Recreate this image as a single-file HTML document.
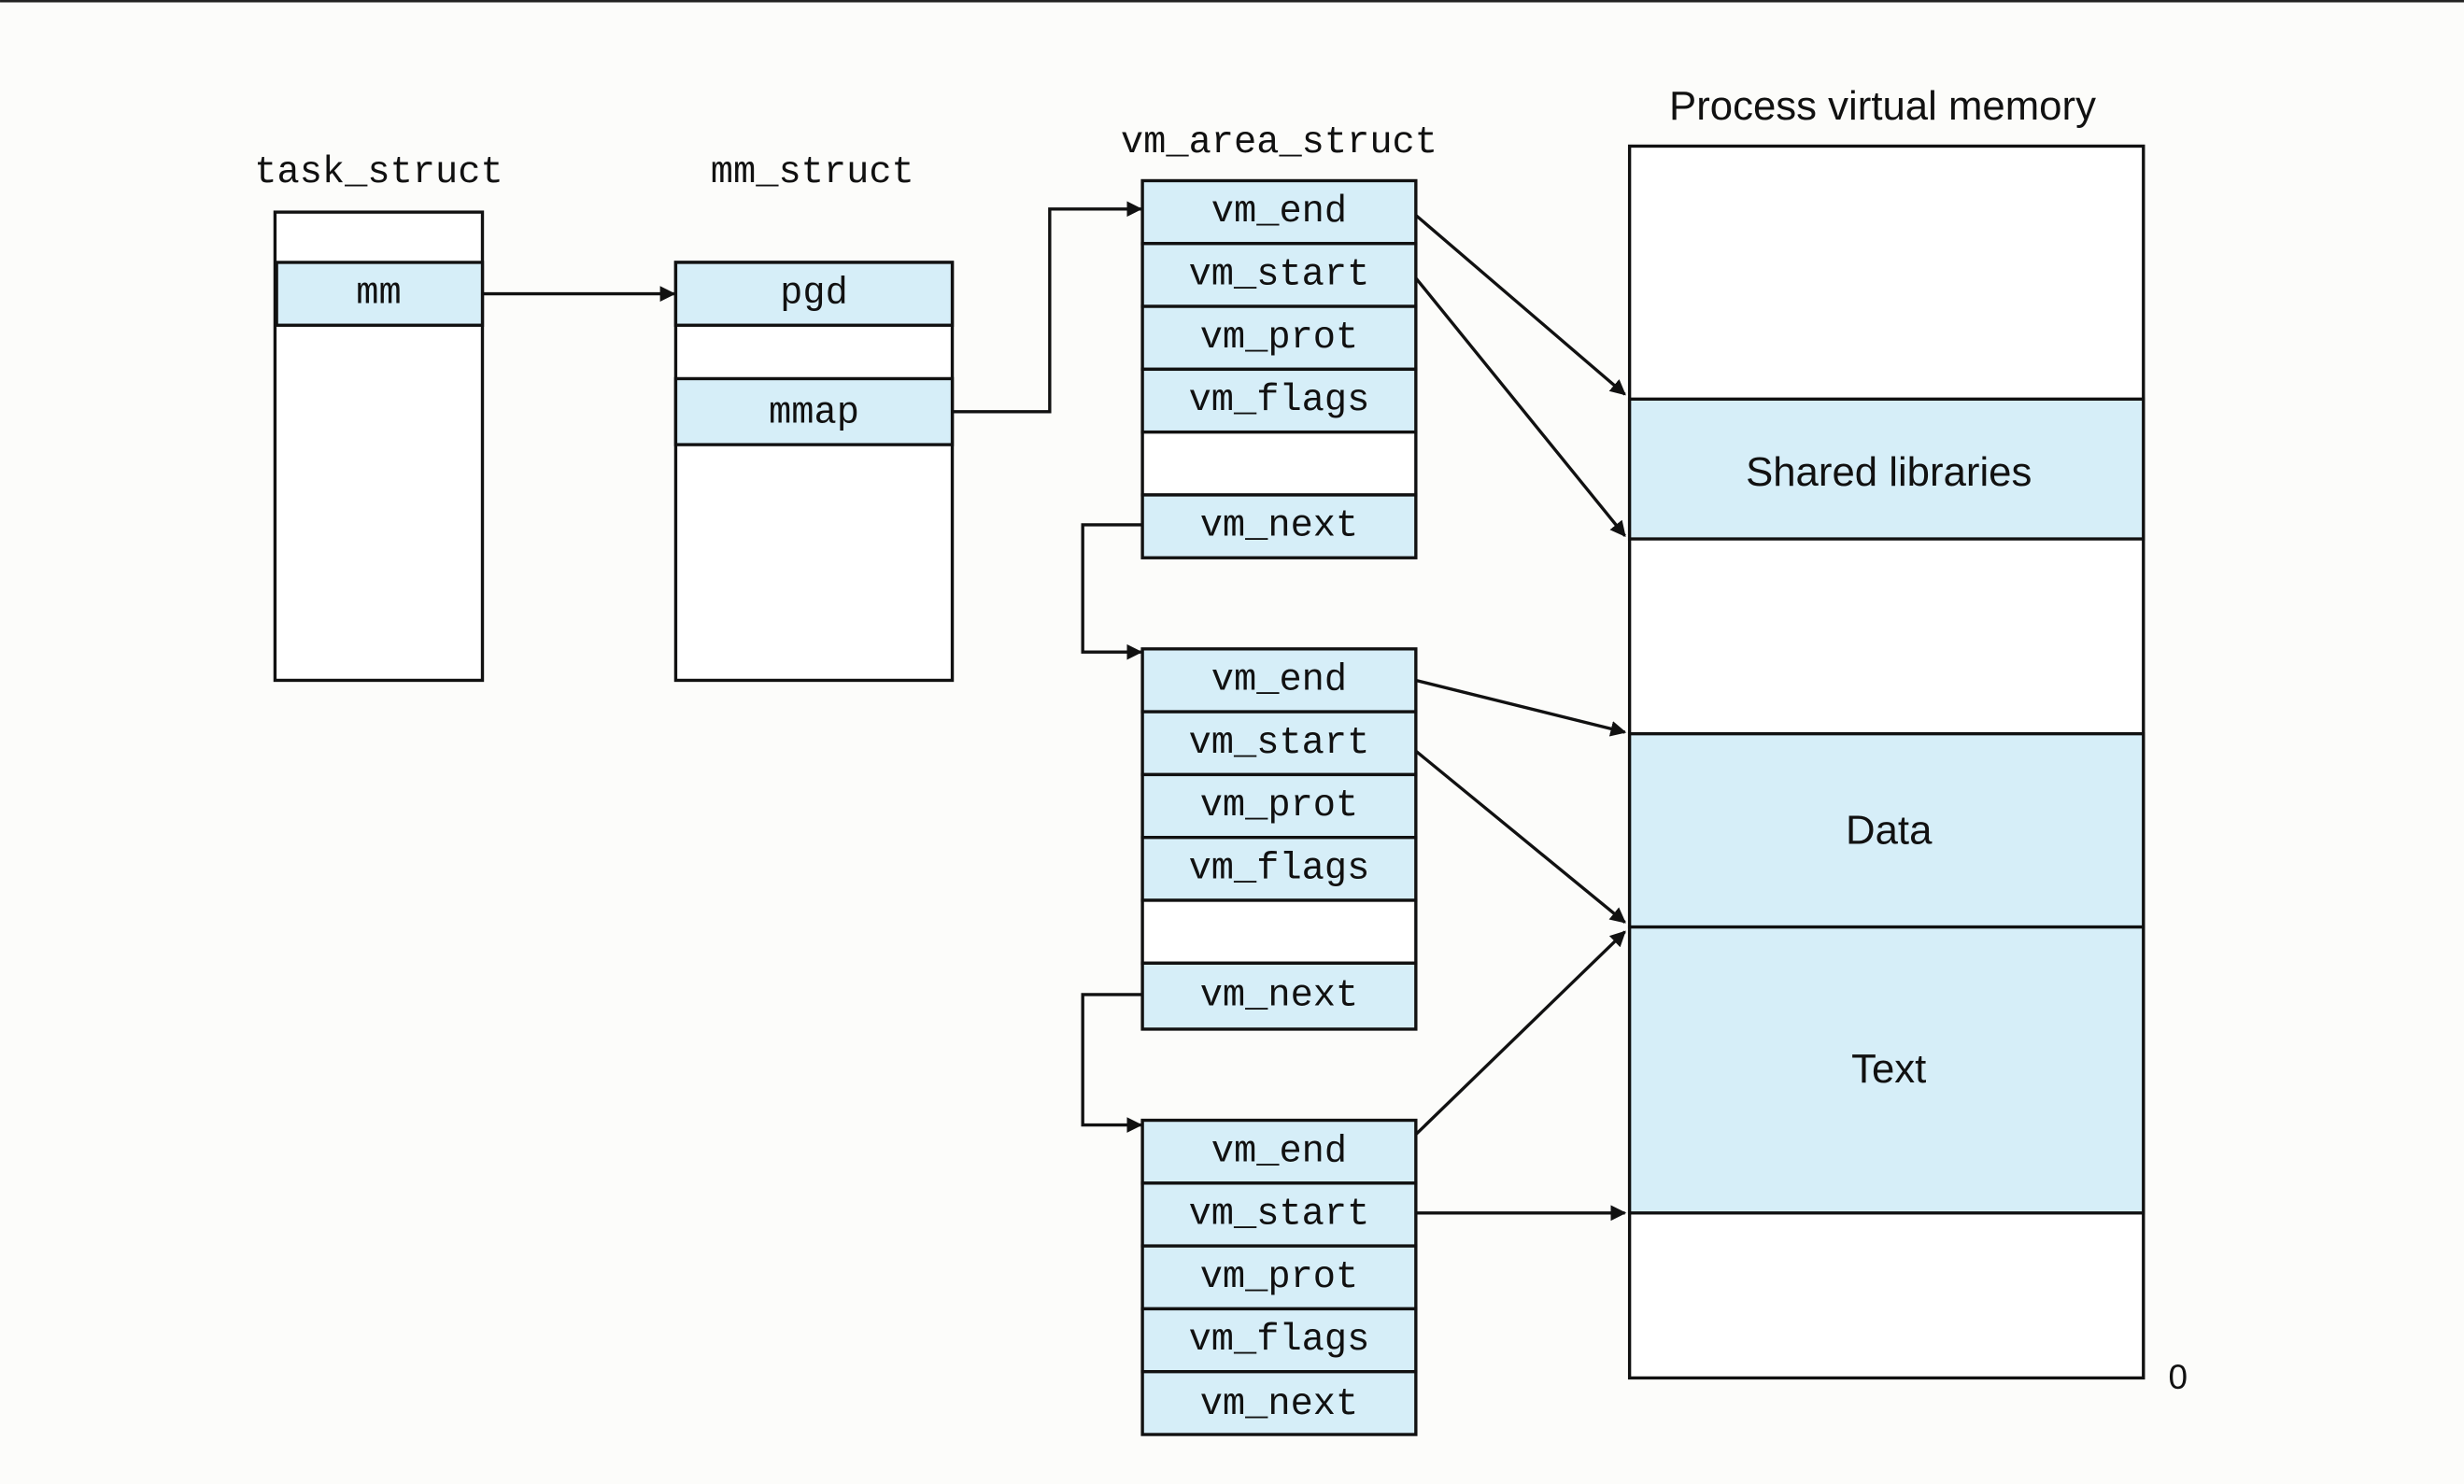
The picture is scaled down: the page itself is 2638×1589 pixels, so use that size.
<!DOCTYPE html>
<html><head><meta charset="utf-8"><style>
html,body{margin:0;padding:0;background:#fcfcfa}
svg{display:block}
.m{font-family:"Liberation Mono",monospace;font-size:24px;fill:#111;text-anchor:middle}
.s{font-family:"Liberation Sans",sans-serif;font-size:26px;fill:#111;text-anchor:middle}
</style></head><body>
<svg width="2638" height="1589" viewBox="0 0 1568 944.5" xmlns="http://www.w3.org/2000/svg">
<defs><marker id="a" markerWidth="10" markerHeight="10" refX="9" refY="5" orient="auto" markerUnits="userSpaceOnUse"><path d="M0,0 L10,5 L0,10 z" fill="#111"/></marker></defs>
<rect x="0" y="0" width="1568" height="944.5" fill="#fcfcfa"/>
<rect x="0" y="0" width="1568" height="1.5" fill="#222"/>
<g stroke="#111" stroke-width="2" fill="#fff">
<rect x="175" y="135" width="132" height="298"/>
<rect x="176" y="167" width="131" height="40" fill="#d6eef8"/>
<rect x="430" y="167" width="176" height="266"/>
<rect x="430" y="167" width="176" height="40" fill="#d6eef8"/>
<rect x="430" y="241" width="176" height="42" fill="#d6eef8"/>
<rect x="1037" y="93" width="327" height="784"/>
<rect x="1037" y="254" width="327" height="89" fill="#d6eef8"/>
<rect x="1037" y="467" width="327" height="123" fill="#d6eef8"/>
<rect x="1037" y="590" width="327" height="182" fill="#d6eef8"/>
</g>
<g stroke="#111" stroke-width="2">
<rect x="727" y="115" width="174" height="40" fill="#d6eef8"/><rect x="727" y="155" width="174" height="40" fill="#d6eef8"/><rect x="727" y="195" width="174" height="40" fill="#d6eef8"/><rect x="727" y="235" width="174" height="40" fill="#d6eef8"/><rect x="727" y="275" width="174" height="40" fill="#fff"/><rect x="727" y="315" width="174" height="40" fill="#d6eef8"/>
<rect x="727" y="413" width="174" height="40" fill="#d6eef8"/><rect x="727" y="453" width="174" height="40" fill="#d6eef8"/><rect x="727" y="493" width="174" height="40" fill="#d6eef8"/><rect x="727" y="533" width="174" height="40" fill="#d6eef8"/><rect x="727" y="573" width="174" height="40" fill="#fff"/><rect x="727" y="613" width="174" height="42" fill="#d6eef8"/>
<rect x="727" y="713" width="174" height="40" fill="#d6eef8"/><rect x="727" y="753" width="174" height="40" fill="#d6eef8"/><rect x="727" y="793" width="174" height="40" fill="#d6eef8"/><rect x="727" y="833" width="174" height="40" fill="#d6eef8"/><rect x="727" y="873" width="174" height="40" fill="#d6eef8"/>
</g>
<g stroke="#111" stroke-width="2" fill="none" marker-end="url(#a)">
<path d="M307,187 H429"/>
<path d="M606,262 H668 V133 H726"/>
<path d="M727,334 H689 V415 H726"/>
<path d="M727,633 H689 V716 H726"/>
<path d="M901,137 L1034,251"/>
<path d="M901,177 L1034,341"/>
<path d="M901,433 L1034,466"/>
<path d="M901,478 L1034,587"/>
<path d="M901,722 L1034,593"/>
<path d="M901,772 H1034"/>
</g>
<text class="m" x="241" y="116">task_struct</text>
<text class="m" x="517" y="116">mm_struct</text>
<text class="m" x="814" y="97">vm_area_struct</text>
<text class="s" x="1198" y="76">Process virtual memory</text>
<text class="m" x="241" y="193">mm</text>
<text class="m" x="518" y="193">pgd</text>
<text class="m" x="518" y="269">mmap</text>
<g class="m">
<text class="m" x="814" y="141">vm_end</text><text class="m" x="814" y="181">vm_start</text><text class="m" x="814" y="221">vm_prot</text><text class="m" x="814" y="261">vm_flags</text><text class="m" x="814" y="341">vm_next</text>
<text class="m" x="814" y="439">vm_end</text><text class="m" x="814" y="479">vm_start</text><text class="m" x="814" y="519">vm_prot</text><text class="m" x="814" y="559">vm_flags</text><text class="m" x="814" y="640">vm_next</text>
<text class="m" x="814" y="739">vm_end</text><text class="m" x="814" y="779">vm_start</text><text class="m" x="814" y="819">vm_prot</text><text class="m" x="814" y="859">vm_flags</text><text class="m" x="814" y="900">vm_next</text>
</g>
<text class="s" x="1202" y="309">Shared libraries</text>
<text class="s" x="1202" y="537">Data</text>
<text class="s" x="1202" y="689">Text</text>
<text class="s" x="1386" y="884" style="font-size:22px">0</text>
</svg>
</body></html>
